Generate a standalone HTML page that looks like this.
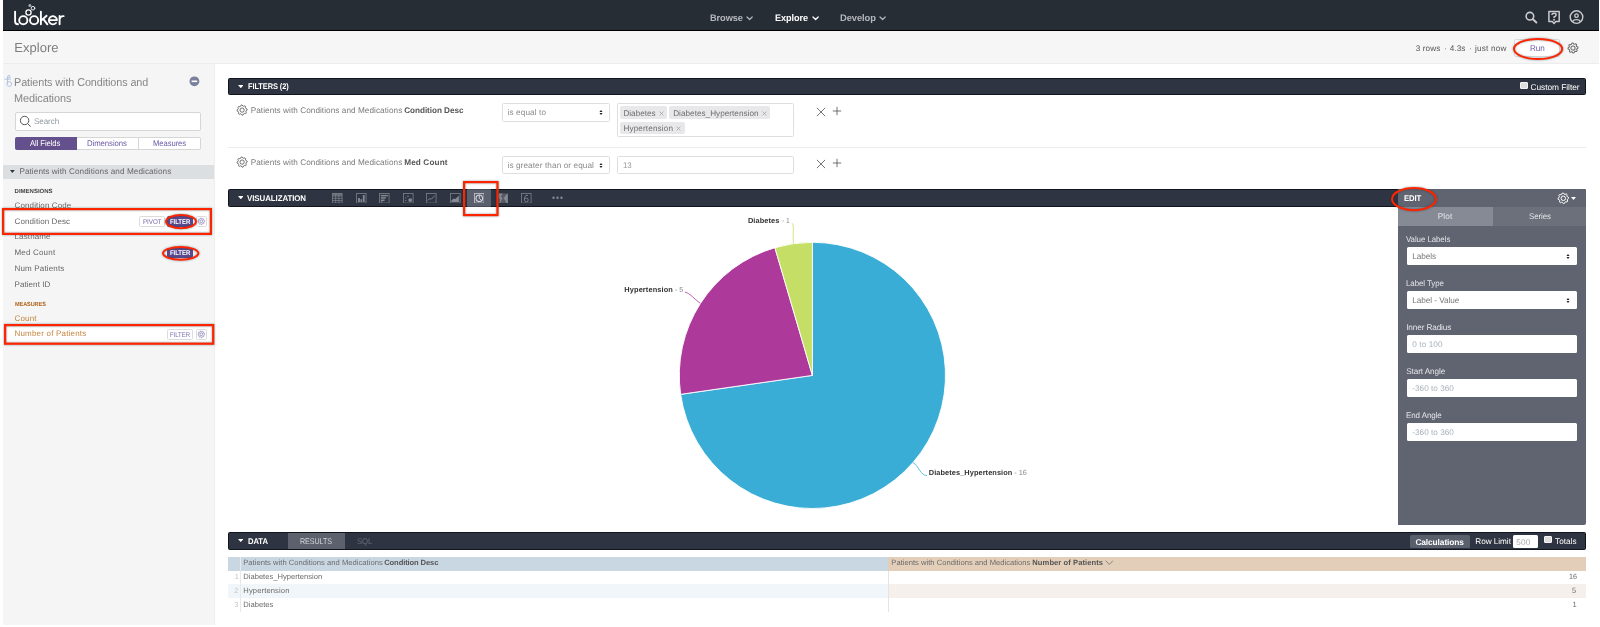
<!DOCTYPE html>
<html><head><meta charset="utf-8"><title>Explore</title>
<style>
html,body{margin:0;padding:0;background:#fff;}
body{width:1600px;height:627px;position:relative;overflow:hidden;font-family:"Liberation Sans", sans-serif;}
.b{position:absolute;box-sizing:border-box;display:block;}
.t{position:absolute;white-space:pre;line-height:12px;text-rendering:geometricPrecision;font-family:"Liberation Sans", sans-serif;}
</style></head><body><div id="root" style="position:absolute;left:0;top:0;width:1600px;height:627px;will-change:transform">
<div class="b" style="left:3px;top:0px;width:1596px;height:31px;background:#272d35;border-bottom:1px solid #000"></div>
<div class="b" style="left:3px;top:31px;width:1596px;height:33px;background:#f6f6f6;border-bottom:1px solid #ececec"></div>
<div class="b" style="left:3px;top:64px;width:212px;height:561px;background:#f5f5f5;border-right:1px solid #eeeeee"></div>
<svg class="b" style="left:0px;top:0px;" width="80" height="31" viewBox="0 0 80 31"><g fill="none" stroke="#fff" stroke-linecap="round" stroke-linejoin="round"><path d="M15.1 11.6 V21.4 Q15.1 24 18 24.2" stroke-width="1.9"/><circle cx="23.3" cy="20.2" r="4.1" stroke-width="1.9"/><circle cx="34.1" cy="20.2" r="4.1" stroke-width="1.9"/><circle cx="28.5" cy="12.5" r="2.6" stroke-width="1.3"/><circle cx="33" cy="8.2" r="1.8" stroke-width="0.9"/><path d="M40.9 11.6 V24.3 M41.5 20.2 L46.6 15.8 M43.2 18.9 L47.4 24.3" stroke-width="1.9"/><path d="M49.2 20.1 H57 A4.1 4.1 0 1 0 56 23" stroke-width="1.8"/><path d="M59.6 15.9 V24.3 M59.6 19.2 Q60 16 63.6 16.1" stroke-width="1.9"/></g><circle cx="29.9" cy="5.4" r="1.5" fill="#a9acb0"/></svg>
<span class="t" style="left:710.12px;top:13.00px;font-size:9.5px;font-weight:700;color:#b4b8bc;letter-spacing:-0.080px;transform:scaleX(0.9728);transform-origin:0 0;">Browse</span>
<svg class="b" style="left:746.4px;top:16.3px;" width="7.2" height="4.5" viewBox="0 0 7.2 4.5"><path d="M1 1 L3.6 3.5 L6.2 1" fill="none" stroke="#b4b8bc" stroke-width="1.2" stroke-linecap="round" stroke-linejoin="round"/></svg>
<span class="t" style="left:775.42px;top:13.00px;font-size:9.5px;font-weight:700;color:#ffffff;letter-spacing:-0.080px;transform:scaleX(0.9615);transform-origin:0 0;">Explore</span>
<svg class="b" style="left:812.0px;top:16.3px;" width="7.2" height="4.5" viewBox="0 0 7.2 4.5"><path d="M1 1 L3.6 3.5 L6.2 1" fill="none" stroke="#ffffff" stroke-width="1.3" stroke-linecap="round" stroke-linejoin="round"/></svg>
<span class="t" style="left:839.77px;top:13.00px;font-size:9.5px;font-weight:700;color:#b4b8bc;letter-spacing:-0.080px;transform:scaleX(0.9826);transform-origin:0 0;">Develop</span>
<svg class="b" style="left:879.1px;top:16.3px;" width="7.2" height="4.5" viewBox="0 0 7.2 4.5"><path d="M1 1 L3.6 3.5 L6.2 1" fill="none" stroke="#b4b8bc" stroke-width="1.2" stroke-linecap="round" stroke-linejoin="round"/></svg>
<svg class="b" style="left:1523px;top:9px;" width="16" height="16" viewBox="0 0 16 16"><circle cx="6.9" cy="7.2" r="3.8" fill="none" stroke="#c9cbce" stroke-width="1.6"/><path d="M9.9 10.2 L13.4 13.5" stroke="#c9cbce" stroke-width="1.9" stroke-linecap="round"/></svg>
<svg class="b" style="left:1546px;top:9px;" width="16" height="17" viewBox="0 0 16 17"><path d="M2.9 2.4 H13.2 V12.4 H9.8 L8.05 14.5 L6.3 12.4 H2.9Z" fill="none" stroke="#c9cbce" stroke-width="1.5" stroke-linejoin="round"/><path d="M6.0 6.1 Q6.0 4.3 8.05 4.3 Q10.1 4.3 10.1 6.0 Q10.1 7.1 8.05 8.0 V9.1" fill="none" stroke="#c9cbce" stroke-width="1.5"/><circle cx="8.05" cy="10.7" r="0.95" fill="#c9cbce"/></svg>
<svg class="b" style="left:1568px;top:9px;" width="17" height="17" viewBox="0 0 17 17"><circle cx="8.5" cy="8.1" r="6.3" fill="none" stroke="#c9cbce" stroke-width="1.4"/><circle cx="8.5" cy="6.7" r="1.75" fill="none" stroke="#c9cbce" stroke-width="1.3"/><path d="M4.9 12.6 Q5 10.6 8.5 10.6 Q12 10.6 12.1 12.6" fill="none" stroke="#c9cbce" stroke-width="1.4"/></svg>
<span class="t" style="left:14.35px;top:40.00px;font-size:13px;font-weight:400;color:#7d7d7d;letter-spacing:0.015px;line-height:16px">Explore</span>
<span class="t" style="left:1415.84px;top:43.00px;font-size:8.2px;font-weight:400;color:#555;letter-spacing:0.073px;">3 rows</span>
<span class="t" style="left:1443.99px;top:43.00px;font-size:8.2px;font-weight:400;color:#777;letter-spacing:0.000px;">·</span>
<span class="t" style="left:1449.84px;top:43.00px;font-size:8.2px;font-weight:400;color:#555;letter-spacing:0.001px;">4.3s</span>
<span class="t" style="left:1468.99px;top:43.00px;font-size:8.2px;font-weight:400;color:#777;letter-spacing:0.000px;">·</span>
<span class="t" style="left:1474.99px;top:43.00px;font-size:8.2px;font-weight:400;color:#555;letter-spacing:0.184px;">just now</span>
<div class="b" style="left:1514.2px;top:38.6px;width:45.5px;height:18.1px;background:#fff;border:1px solid #dcdcdc;border-radius:2px"></div>
<span class="t" style="left:1529.58px;top:42.00px;font-size:8.4px;font-weight:400;color:#6c5aa6;letter-spacing:-0.080px;transform:scaleX(0.9698);transform-origin:0 0;">Run</span>
<svg class="b" style="left:1508.7px;top:33.75px;filter:drop-shadow(0 0.6px 1px rgba(0,50,60,.45))" width="58.2" height="30.0" viewBox="0 0 58.2 30.0"><ellipse cx="29.1" cy="15.0" rx="24.1" ry="10.0" fill="none" stroke="#ff2400" stroke-width="2.0" transform="rotate(0 29.1 15.0)"/></svg>
<svg class="b" style="left:1567.1px;top:41.75px;" width="12.0" height="12.0" viewBox="0 0 12.0 12.0"><path d="M5.02 1.10 L6.00 1.00 L6.78 2.08 L7.53 2.30 L8.78 1.84 L9.54 2.46 L9.33 3.78 L9.70 4.47 L10.90 5.02 L11.00 6.00 L9.92 6.78 L9.70 7.53 L10.16 8.78 L9.54 9.54 L8.22 9.33 L7.53 9.70 L6.98 10.90 L6.00 11.00 L5.22 9.92 L4.47 9.70 L3.22 10.16 L2.46 9.54 L2.67 8.22 L2.30 7.53 L1.10 6.98 L1.00 6.00 L2.08 5.22 L2.30 4.47 L1.84 3.22 L2.46 2.46 L3.78 2.67 L4.47 2.30Z" fill="none" stroke="#6c6c6c" stroke-width="1.05" stroke-linejoin="round"/><circle cx="6.0" cy="6.0" r="2.10" fill="none" stroke="#6c6c6c" stroke-width="1.05"/></svg>
<svg class="b" style="left:3px;top:74px;" width="11" height="14" viewBox="0 0 11 14"><g fill="none" stroke="#a9bedd" stroke-width="0.85"><path d="M4.5 2.6 V9.6"/><path d="M1.4 5.2 H8"/><circle cx="6" cy="2.7" r="1.2"/><circle cx="6.2" cy="10" r="2.4"/></g></svg>
<span class="t" style="left:14.33px;top:77.00px;font-size:11.4px;font-weight:400;color:#858585;letter-spacing:-0.080px;transform:scaleX(0.9487);transform-origin:0 0;">Patients with Conditions and</span>
<span class="t" style="left:14.33px;top:93.00px;font-size:11.4px;font-weight:400;color:#858585;letter-spacing:-0.080px;transform:scaleX(0.9557);transform-origin:0 0;">Medications</span>
<svg class="b" style="left:189px;top:76.4px;" width="11" height="11" viewBox="0 0 11 11"><circle cx="5.4" cy="5.3" r="4.9" fill="#79819d"/><rect x="2.6" y="4.5" width="5.6" height="1.6" fill="#fff"/></svg>
<div class="b" style="left:14.5px;top:112.2px;width:186.3px;height:18.60000000000001px;background:#fff;border:1px solid #d6d6d6;border-radius:2px"></div>
<svg class="b" style="left:19px;top:115px;" width="13" height="13" viewBox="0 0 13 13"><circle cx="5.6" cy="5.5" r="4.2" fill="none" stroke="#555" stroke-width="1"/><path d="M8.6 8.6 L11.7 11.6" stroke="#555" stroke-width="1"/></svg>
<span class="t" style="left:34.29px;top:116.00px;font-size:8.2px;font-weight:400;color:#8e9aa0;letter-spacing:-0.080px;transform:scaleX(0.9838);transform-origin:0 0;">Search</span>
<div class="b" style="left:14.5px;top:137px;width:186.3px;height:13px;background:#fff;border:1px solid #d6d6d6;border-radius:2px"></div>
<div class="b" style="left:14.5px;top:137px;width:62.0px;height:13px;background:#64508c;border-radius:2px 0 0 2px"></div>
<div class="b" style="left:138.0px;top:137.8px;width:1.0px;height:11.399999999999977px;background:#d6d6d6"></div>
<span class="t" style="left:30.24px;top:138.00px;font-size:8.2px;font-weight:400;color:#fff;letter-spacing:-0.080px;transform:scaleX(0.9351);transform-origin:0 0;">All Fields</span>
<span class="t" style="left:87.49px;top:138.00px;font-size:8.2px;font-weight:400;color:#6c5aa6;letter-spacing:-0.080px;transform:scaleX(0.9495);transform-origin:0 0;">Dimensions</span>
<span class="t" style="left:152.89px;top:138.00px;font-size:8.2px;font-weight:400;color:#6c5aa6;letter-spacing:-0.080px;transform:scaleX(0.9363);transform-origin:0 0;">Measures</span>
<div class="b" style="left:3px;top:165px;width:211px;height:13.800000000000011px;background:#dcdfe2"></div>
<svg class="b" style="left:10.2px;top:170.1px;" width="4.8" height="3.0" viewBox="0 0 4.8 3.0"><path d="M0 0 L4.8 0 L2.4 3.0Z" fill="#333"/></svg>
<span class="t" style="left:19.39px;top:166.00px;font-size:8.2px;font-weight:400;color:#666;letter-spacing:0.068px;">Patients with Conditions and Medications</span>
<span class="t" style="left:14.60px;top:186.00px;font-size:6.0px;font-weight:700;color:#444;letter-spacing:-0.008px;">DIMENSIONS</span>
<div class="b" style="left:2.6px;top:209.2px;width:208.0px;height:25.0px;background:#fff"></div>
<span class="t" style="left:14.50px;top:200.00px;font-size:8.0px;font-weight:400;color:#666;letter-spacing:0.128px;">Condition Code</span>
<span class="t" style="left:14.50px;top:216.00px;font-size:8.0px;font-weight:400;color:#666;letter-spacing:0.105px;">Condition Desc</span>
<span class="t" style="left:14.50px;top:231.00px;font-size:8.0px;font-weight:400;color:#666;letter-spacing:0.126px;">Lastname</span>
<span class="t" style="left:14.50px;top:247.00px;font-size:8.0px;font-weight:400;color:#666;letter-spacing:0.185px;">Med Count</span>
<span class="t" style="left:14.50px;top:263.00px;font-size:8.0px;font-weight:400;color:#666;letter-spacing:0.163px;">Num Patients</span>
<span class="t" style="left:14.50px;top:279.00px;font-size:8.0px;font-weight:400;color:#666;letter-spacing:0.075px;">Patient ID</span>
<div class="b" style="left:139.3px;top:216px;width:25.399999999999977px;height:10.599999999999994px;background:#fff;border:1px solid #dcdcdc;border-radius:1.5px"></div>
<span class="t" style="left:142.56px;top:217.00px;font-size:6.9px;font-weight:400;color:#7b6cad;letter-spacing:-0.080px;transform:scaleX(0.9093);transform-origin:0 0;">PIVOT</span>
<div class="b" style="left:166.9px;top:216px;width:26.400000000000006px;height:10.599999999999994px;background:#5b4a8e;border-radius:2px"></div>
<span class="t" style="left:170.35px;top:217.00px;font-size:6.9px;font-weight:700;color:#fff;letter-spacing:-0.080px;transform:scaleX(0.8712);transform-origin:0 0;">FILTER</span>
<div class="b" style="left:195.7px;top:216px;width:11.0px;height:10.599999999999994px;background:#fff;border:1px solid #dcdcdc;border-radius:1.5px"></div>
<svg class="b" style="left:197.0px;top:217.1px;" width="8.6" height="8.6" viewBox="0 0 8.6 8.6"><path d="M3.66 1.06 L4.30 1.00 L4.82 1.71 L5.31 1.86 L6.13 1.56 L6.63 1.97 L6.50 2.83 L6.74 3.29 L7.54 3.66 L7.60 4.30 L6.89 4.82 L6.74 5.31 L7.04 6.13 L6.63 6.63 L5.77 6.50 L5.31 6.74 L4.94 7.54 L4.30 7.60 L3.78 6.89 L3.29 6.74 L2.47 7.04 L1.97 6.63 L2.10 5.77 L1.86 5.31 L1.06 4.94 L1.00 4.30 L1.71 3.78 L1.86 3.29 L1.56 2.47 L1.97 1.97 L2.83 2.10 L3.29 1.86Z" fill="none" stroke="#8176b0" stroke-width="0.7" stroke-linejoin="round"/><circle cx="4.3" cy="4.3" r="1.39" fill="none" stroke="#8176b0" stroke-width="0.7"/></svg>
<svg class="b" style="left:-2.4px;top:204.2px;filter:drop-shadow(0 0.6px 1px rgba(0,50,60,.45))" width="218.0" height="35.0" viewBox="0 0 218.0 35.0"><rect x="5.1" y="5.1" width="207.8" height="24.8" fill="none" stroke="#ff2400" stroke-width="2.2"/></svg>
<svg class="b" style="left:160.5px;top:209.6px;filter:drop-shadow(0 0.6px 1px rgba(0,50,60,.45))" width="40.0" height="23.2" viewBox="0 0 40.0 23.2"><ellipse cx="20.0" cy="11.6" rx="15.0" ry="6.6" fill="none" stroke="#ff2400" stroke-width="2.0" transform="rotate(0 20.0 11.6)"/></svg>
<div class="b" style="left:166.9px;top:247.8px;width:26.400000000000006px;height:9.800000000000011px;background:#5b4a8e;border-radius:2px"></div>
<span class="t" style="left:170.35px;top:248.00px;font-size:6.9px;font-weight:700;color:#fff;letter-spacing:-0.080px;transform:scaleX(0.8712);transform-origin:0 0;">FILTER</span>
<svg class="b" style="left:157.60000000000002px;top:241.65px;filter:drop-shadow(0 0.6px 1px rgba(0,50,60,.45))" width="45.4" height="22.7" viewBox="0 0 45.4 22.7"><ellipse cx="22.7" cy="11.35" rx="17.7" ry="6.35" fill="none" stroke="#ff2400" stroke-width="2.0" transform="rotate(0 22.7 11.35)"/></svg>
<span class="t" style="left:14.60px;top:299.00px;font-size:6.0px;font-weight:700;color:#b0651a;letter-spacing:-0.080px;transform:scaleX(0.9218);transform-origin:0 0;">MEASURES</span>
<span class="t" style="left:14.50px;top:313.00px;font-size:8.0px;font-weight:400;color:#c5853f;letter-spacing:0.165px;">Count</span>
<div class="b" style="left:4.5px;top:325px;width:208.1px;height:18.80000000000001px;background:#fff"></div>
<span class="t" style="left:14.50px;top:328.00px;font-size:8.0px;font-weight:400;color:#c5853f;letter-spacing:0.190px;">Number of Patients</span>
<div class="b" style="left:167.4px;top:329px;width:25.799999999999983px;height:10.600000000000023px;background:#fff;border:1px solid #dcdcdc;border-radius:1.5px"></div>
<span class="t" style="left:170.46px;top:330.00px;font-size:6.9px;font-weight:400;color:#7b6cad;letter-spacing:-0.080px;transform:scaleX(0.8768);transform-origin:0 0;">FILTER</span>
<div class="b" style="left:195.7px;top:329px;width:11.0px;height:10.600000000000023px;background:#fff;border:1px solid #dcdcdc;border-radius:1.5px"></div>
<svg class="b" style="left:197.0px;top:330.0px;" width="8.6" height="8.6" viewBox="0 0 8.6 8.6"><path d="M3.66 1.06 L4.30 1.00 L4.82 1.71 L5.31 1.86 L6.13 1.56 L6.63 1.97 L6.50 2.83 L6.74 3.29 L7.54 3.66 L7.60 4.30 L6.89 4.82 L6.74 5.31 L7.04 6.13 L6.63 6.63 L5.77 6.50 L5.31 6.74 L4.94 7.54 L4.30 7.60 L3.78 6.89 L3.29 6.74 L2.47 7.04 L1.97 6.63 L2.10 5.77 L1.86 5.31 L1.06 4.94 L1.00 4.30 L1.71 3.78 L1.86 3.29 L1.56 2.47 L1.97 1.97 L2.83 2.10 L3.29 1.86Z" fill="none" stroke="#8176b0" stroke-width="0.7" stroke-linejoin="round"/><circle cx="4.3" cy="4.3" r="1.39" fill="none" stroke="#8176b0" stroke-width="0.7"/></svg>
<svg class="b" style="left:-0.5px;top:320px;filter:drop-shadow(0 0.6px 1px rgba(0,50,60,.45))" width="218.3" height="28.80000000000001" viewBox="0 0 218.3 28.80000000000001"><rect x="5.1" y="5.1" width="208.10000000000002" height="18.600000000000012" fill="none" stroke="#ff2400" stroke-width="2.2"/></svg>
<div class="b" style="left:227.7px;top:77.6px;width:1358.5px;height:17.700000000000003px;background:#2e3441;border:1px solid #10141c;border-radius:1.5px"></div>
<svg class="b" style="left:237.8px;top:84.9px;" width="5.6" height="3.2" viewBox="0 0 5.6 3.2"><path d="M0 0 L5.6 0 L2.8 3.2Z" fill="#fff"/></svg>
<span class="t" style="left:248.29px;top:81.00px;font-size:8.2px;font-weight:700;color:#fff;letter-spacing:-0.080px;transform:scaleX(0.9054);transform-origin:0 0;">FILTERS (2)</span>
<div class="b" style="left:1519.8px;top:81.5px;width:8.200000000000045px;height:7.599999999999994px;background:#dedede;border:1px solid #f4f4f4;border-radius:1px"></div>
<span class="t" style="left:1530.59px;top:81.00px;font-size:8.3px;font-weight:400;color:#fff;letter-spacing:-0.032px;">Custom Filter</span>
<svg class="b" style="left:235.75px;top:104.1px;" width="12.2" height="12.2" viewBox="0 0 12.2 12.2"><path d="M5.11 1.10 L6.10 1.00 L6.90 2.10 L7.66 2.33 L8.93 1.86 L9.71 2.49 L9.49 3.83 L9.87 4.54 L11.10 5.11 L11.20 6.10 L10.10 6.90 L9.87 7.66 L10.34 8.93 L9.71 9.71 L8.37 9.49 L7.66 9.87 L7.09 11.10 L6.10 11.20 L5.30 10.10 L4.54 9.87 L3.27 10.34 L2.49 9.71 L2.71 8.37 L2.33 7.66 L1.10 7.09 L1.00 6.10 L2.10 5.30 L2.33 4.54 L1.86 3.27 L2.49 2.49 L3.83 2.71 L4.54 2.33Z" fill="none" stroke="#6e6e6e" stroke-width="1.0" stroke-linejoin="round"/><circle cx="6.1" cy="6.1" r="2.14" fill="none" stroke="#6e6e6e" stroke-width="1.0"/></svg>
<span class="t" style="left:250.69px;top:105.00px;font-size:8.2px;font-weight:400;color:#7a7a7a;letter-spacing:0.058px;">Patients with Conditions and Medications</span>
<span class="t" style="left:404.19px;top:105.00px;font-size:8.2px;font-weight:700;color:#555;letter-spacing:-0.055px;">Condition Desc</span>
<div class="b" style="left:502.1px;top:103.39999999999999px;width:107.79999999999995px;height:18.450000000000003px;background:#fff;border:1px solid #dedede;border-radius:1.5px"></div>
<span class="t" style="left:507.49px;top:107.00px;font-size:8.2px;font-weight:400;color:#8a8a8a;letter-spacing:0.121px;">is equal to</span>
<svg class="b" style="left:599.2px;top:109.3px;" width="4" height="7" viewBox="0 0 4 7"><path d="M0.45 3.0 L2 1.1 L3.55 3.0Z M0.45 4.0 L2 5.9 L3.55 4.0Z" fill="#222"/></svg>
<div class="b" style="left:617.2px;top:103.4px;width:176.5px;height:33.5px;background:#fff;border:1px solid #dedede;border-radius:1.5px"></div>
<div class="b" style="left:619.7px;top:106.3px;width:47.19999999999993px;height:12.5px;background:#e8e8ea;border-radius:2px"></div>
<span class="t" style="left:623.39px;top:108.00px;font-size:8.2px;font-weight:400;color:#6e6e6e;letter-spacing:0.001px;">Diabetes</span>
<svg class="b" style="left:658.55px;top:110.5px;" width="5" height="5" viewBox="0 0 5 5"><path d="M0.6 0.6 L4.4 4.4 M4.4 0.6 L0.6 4.4" stroke="#9a9a9a" stroke-width="0.7"/></svg>
<div class="b" style="left:669.3px;top:106.3px;width:100.70000000000005px;height:12.5px;background:#e8e8ea;border-radius:2px"></div>
<span class="t" style="left:673.19px;top:108.00px;font-size:8.2px;font-weight:400;color:#6e6e6e;letter-spacing:0.011px;">Diabetes_Hypertension</span>
<svg class="b" style="left:761.55px;top:110.5px;" width="5" height="5" viewBox="0 0 5 5"><path d="M0.6 0.6 L4.4 4.4 M4.4 0.6 L0.6 4.4" stroke="#9a9a9a" stroke-width="0.7"/></svg>
<div class="b" style="left:619.7px;top:121.6px;width:65.09999999999991px;height:12.5px;background:#e8e8ea;border-radius:2px"></div>
<span class="t" style="left:623.39px;top:123.00px;font-size:8.2px;font-weight:400;color:#6e6e6e;letter-spacing:0.126px;">Hypertension</span>
<svg class="b" style="left:675.9px;top:125.5px;" width="5" height="5" viewBox="0 0 5 5"><path d="M0.6 0.6 L4.4 4.4 M4.4 0.6 L0.6 4.4" stroke="#9a9a9a" stroke-width="0.7"/></svg>
<svg class="b" style="left:815.8px;top:106.7px;" width="10" height="10" viewBox="0 0 10 10"><path d="M0.9 0.9 L9.1 9.1 M9.1 0.9 L0.9 9.1" stroke="#5a5a5a" stroke-width="0.85"/></svg>
<svg class="b" style="left:831.7px;top:105.60000000000001px;" width="10" height="10" viewBox="0 0 10 10"><path d="M5 0.8 V9.2 M0.8 5 H9.2" stroke="#5a5a5a" stroke-width="0.85"/></svg>
<div class="b" style="left:227.7px;top:147.1px;width:1358.5px;height:1.0px;background:#ececec"></div>
<svg class="b" style="left:235.75px;top:156.45px;" width="12.2" height="12.2" viewBox="0 0 12.2 12.2"><path d="M5.11 1.10 L6.10 1.00 L6.90 2.10 L7.66 2.33 L8.93 1.86 L9.71 2.49 L9.49 3.83 L9.87 4.54 L11.10 5.11 L11.20 6.10 L10.10 6.90 L9.87 7.66 L10.34 8.93 L9.71 9.71 L8.37 9.49 L7.66 9.87 L7.09 11.10 L6.10 11.20 L5.30 10.10 L4.54 9.87 L3.27 10.34 L2.49 9.71 L2.71 8.37 L2.33 7.66 L1.10 7.09 L1.00 6.10 L2.10 5.30 L2.33 4.54 L1.86 3.27 L2.49 2.49 L3.83 2.71 L4.54 2.33Z" fill="none" stroke="#6e6e6e" stroke-width="1.0" stroke-linejoin="round"/><circle cx="6.1" cy="6.1" r="2.14" fill="none" stroke="#6e6e6e" stroke-width="1.0"/></svg>
<span class="t" style="left:250.69px;top:157.00px;font-size:8.2px;font-weight:400;color:#7a7a7a;letter-spacing:0.058px;">Patients with Conditions and Medications</span>
<span class="t" style="left:404.19px;top:157.00px;font-size:8.2px;font-weight:700;color:#555;letter-spacing:0.130px;">Med Count</span>
<div class="b" style="left:502.1px;top:155.75px;width:107.79999999999995px;height:18.44999999999999px;background:#fff;border:1px solid #dedede;border-radius:1.5px"></div>
<span class="t" style="left:507.49px;top:160.00px;font-size:8.2px;font-weight:400;color:#8a8a8a;letter-spacing:0.097px;">is greater than or equal</span>
<svg class="b" style="left:599.2px;top:161.64999999999998px;" width="4" height="7" viewBox="0 0 4 7"><path d="M0.45 3.0 L2 1.1 L3.55 3.0Z M0.45 4.0 L2 5.9 L3.55 4.0Z" fill="#222"/></svg>
<div class="b" style="left:617.2px;top:156.4px;width:176.5px;height:17.900000000000006px;background:#fff;border:1px solid #dedede;border-radius:1.5px"></div>
<span class="t" style="left:622.79px;top:160.00px;font-size:8.2px;font-weight:400;color:#999;letter-spacing:-0.080px;transform:scaleX(0.9677);transform-origin:0 0;">13</span>
<svg class="b" style="left:815.8px;top:159.3px;" width="10" height="10" viewBox="0 0 10 10"><path d="M0.9 0.9 L9.1 9.1 M9.1 0.9 L0.9 9.1" stroke="#5a5a5a" stroke-width="0.85"/></svg>
<svg class="b" style="left:831.7px;top:158.20000000000002px;" width="10" height="10" viewBox="0 0 10 10"><path d="M5 0.8 V9.2 M0.8 5 H9.2" stroke="#5a5a5a" stroke-width="0.85"/></svg>
<div class="b" style="left:227.7px;top:189px;width:1358.5px;height:18px;background:#2e3441;border:1px solid #10141c;border-radius:1.5px"></div>
<svg class="b" style="left:237.9px;top:196.1px;" width="5.6" height="3.3" viewBox="0 0 5.6 3.3"><path d="M0 0 L5.6 0 L2.8 3.3Z" fill="#fff"/></svg>
<span class="t" style="left:247.49px;top:193.00px;font-size:8.2px;font-weight:700;color:#fff;letter-spacing:-0.080px;transform:scaleX(0.9653);transform-origin:0 0;">VISUALIZATION</span>
<svg class="b" style="left:332.3px;top:192.9px;" width="10.6" height="10.6" viewBox="0 0 10.6 10.6"><rect x="0.5" y="0.5" width="9.6" height="9.6" fill="none" stroke="#858993" stroke-width="0.9" opacity="0.8"/><path d="M0.5 3 H10.1 M0.5 5.3 H10.1 M0.5 7.6 H10.1 M3.7 0.5 V10.1 M6.9 0.5 V10.1" stroke="#858993" stroke-width="0.7"/><rect x="0.5" y="0.5" width="9.6" height="2.2" fill="#858993" opacity=".6"/></svg>
<svg class="b" style="left:356.0px;top:192.9px;" width="10.6" height="10.6" viewBox="0 0 10.6 10.6"><rect x="0.5" y="0.5" width="9.6" height="9.6" fill="none" stroke="#858993" stroke-width="0.9" opacity="0.8"/><rect x="2" y="5" width="1.9" height="4" fill="#858993"/><rect x="4.5" y="6.2" width="1.6" height="2.8" fill="#858993"/><rect x="6.8" y="2" width="1.9" height="7" fill="#858993"/></svg>
<svg class="b" style="left:379.4px;top:192.9px;" width="10.6" height="10.6" viewBox="0 0 10.6 10.6"><rect x="0.5" y="0.5" width="9.6" height="9.6" fill="none" stroke="#858993" stroke-width="0.9" opacity="0.8"/><rect x="1.8" y="1.9" width="7" height="1.5" fill="#858993"/><rect x="1.8" y="4.2" width="5" height="1.5" fill="#858993"/><rect x="1.8" y="6.5" width="3.8" height="1.5" fill="#858993"/><rect x="1.8" y="8.4" width="1.8" height="0.9" fill="#858993"/></svg>
<svg class="b" style="left:403.09999999999997px;top:192.9px;" width="10.6" height="10.6" viewBox="0 0 10.6 10.6"><rect x="0.5" y="0.5" width="9.6" height="9.6" fill="none" stroke="#858993" stroke-width="0.9" opacity="0.8"/><circle cx="7.2" cy="7.1" r="1.95" fill="#858993"/><circle cx="5" cy="3.2" r="0.8" fill="#858993"/><circle cx="2.7" cy="4.8" r="0.6" fill="#858993"/><rect x="2" y="7.2" width="1.4" height="0.7" fill="#858993"/></svg>
<svg class="b" style="left:426.4px;top:192.9px;" width="10.6" height="10.6" viewBox="0 0 10.6 10.6"><rect x="0.5" y="0.5" width="9.6" height="9.6" fill="none" stroke="#858993" stroke-width="0.9" opacity="0.8"/><path d="M1.6 7.4 L3.8 5.6 L5.4 6.2 L8.8 2.6" fill="none" stroke="#858993" stroke-width="0.9"/></svg>
<svg class="b" style="left:450.09999999999997px;top:192.9px;" width="10.6" height="10.6" viewBox="0 0 10.6 10.6"><rect x="0.5" y="0.5" width="9.6" height="9.6" fill="none" stroke="#858993" stroke-width="0.9" opacity="0.8"/><path d="M1.4 8.9 V7.2 L3.8 5.4 L5.4 6 L8.9 2.6 V8.9Z" fill="#858993"/></svg>
<div class="b" style="left:467px;top:189px;width:24px;height:18px;background:#5b606e;border-top:1px solid #474c59;border-bottom:1px solid #474c59"></div>
<svg class="b" style="left:473.9px;top:192.9px;" width="10.6" height="10.6" viewBox="0 0 10.6 10.6"><rect x="0.5" y="0.5" width="9.6" height="9.6" fill="none" stroke="#d6d8dc" stroke-width="0.9" opacity="0.8"/><circle cx="5.3" cy="5.3" r="3.3" fill="none" stroke="#d6d8dc" stroke-width="1.1"/><path d="M5.3 2 V5.3 L7.6 7.6" fill="none" stroke="#d6d8dc" stroke-width="0.9"/></svg>
<svg class="b" style="left:498.3px;top:192.9px;" width="10.6" height="10.6" viewBox="0 0 10.6 10.6"><rect x="0.6" y="0.5" width="9.2" height="9.6" fill="#858993" opacity="0.45"/><path d="M0.6 0.5 H4.6 L3 3.4 L4.4 5.2 L2.4 10.1 H1.6 L2 6.2 L0.6 4.4Z M9.8 0.5 V10.1 L8.2 10.1 L7.4 7.4 L5.6 5.6 L7.2 3 L9 1Z" fill="#858993"/></svg>
<svg class="b" style="left:521.2px;top:192.9px;" width="10.6" height="10.6" viewBox="0 0 10.6 10.6"><rect x="0.5" y="0.5" width="9.6" height="9.6" fill="none" stroke="#858993" stroke-width="0.9" opacity="0.8"/><path d="M7.0 2.3 Q4.4 1.6 3.6 4.6 Q2.9 8.9 5.3 8.9 Q7.2 8.9 7.2 6.9 Q7.2 5.2 5.5 5.2 Q4.2 5.2 3.5 6.4" fill="none" stroke="#858993" stroke-width="0.9"/></svg>
<svg class="b" style="left:552.3px;top:196.4px;" width="11" height="3.4" viewBox="0 0 11 3.4"><circle cx="1.5" cy="1.7" r="1.2" fill="#858993"/><circle cx="5.5" cy="1.7" r="1.2" fill="#858993"/><circle cx="9.5" cy="1.7" r="1.2" fill="#858993"/></svg>
<svg class="b" style="left:459.1px;top:177.3px;filter:drop-shadow(0 0.6px 1px rgba(0,50,60,.45))" width="43.599999999999966" height="43.19999999999999" viewBox="0 0 43.599999999999966 43.19999999999999"><rect x="5.1" y="5.1" width="33.39999999999996" height="32.999999999999986" fill="none" stroke="#ff2400" stroke-width="2.2"/></svg>
<div class="b" style="left:1397.7px;top:189.2px;width:188.29999999999995px;height:335.40000000000003px;background:#5f6470;border-radius:0 2px 2px 0"></div>
<span class="t" style="left:1403.59px;top:193.00px;font-size:8.2px;font-weight:700;color:#fff;letter-spacing:-0.080px;transform:scaleX(0.9415);transform-origin:0 0;">EDIT</span>
<svg class="b" style="left:1557.0px;top:192.0px;" width="12.6" height="12.6" viewBox="0 0 12.6 12.6"><path d="M5.27 1.10 L6.30 1.00 L7.13 2.14 L7.92 2.38 L9.24 1.89 L10.05 2.55 L9.83 3.94 L10.22 4.68 L11.50 5.27 L11.60 6.30 L10.46 7.13 L10.22 7.92 L10.71 9.24 L10.05 10.05 L8.66 9.83 L7.92 10.22 L7.33 11.50 L6.30 11.60 L5.47 10.46 L4.68 10.22 L3.36 10.71 L2.55 10.05 L2.77 8.66 L2.38 7.92 L1.10 7.33 L1.00 6.30 L2.14 5.47 L2.38 4.68 L1.89 3.36 L2.55 2.55 L3.94 2.77 L4.68 2.38Z" fill="none" stroke="#fff" stroke-width="1.0" stroke-linejoin="round"/><circle cx="6.3" cy="6.3" r="2.23" fill="none" stroke="#fff" stroke-width="1.0"/></svg>
<svg class="b" style="left:1570.5px;top:197.0px;" width="5.0" height="2.9" viewBox="0 0 5.0 2.9"><path d="M0 0 L5.0 0 L2.5 2.9Z" fill="#fff"/></svg>
<div class="b" style="left:1397.7px;top:207.1px;width:95.0px;height:18.650000000000006px;background:#868a95"></div>
<div class="b" style="left:1492.7px;top:207.1px;width:93.29999999999995px;height:18.650000000000006px;background:#6b707b"></div>
<span class="t" style="left:1437.79px;top:211.00px;font-size:8.2px;font-weight:400;color:#e6e7ea;letter-spacing:0.110px;">Plot</span>
<span class="t" style="left:1528.59px;top:211.00px;font-size:8.2px;font-weight:400;color:#e6e7ea;letter-spacing:-0.080px;transform:scaleX(0.9570);transform-origin:0 0;">Series</span>
<svg class="b" style="left:1386.6px;top:183.1px;filter:drop-shadow(0 0.6px 1px rgba(0,50,60,.45))" width="54" height="32.2" viewBox="0 0 54 32.2"><ellipse cx="27" cy="16.1" rx="21.95" ry="11.049999999999999" fill="none" stroke="#ff2400" stroke-width="2.1" transform="rotate(0 27 16.1)"/></svg>
<span class="t" style="left:1406.19px;top:234.00px;font-size:8.2px;font-weight:400;color:#e4e5e8;letter-spacing:-0.080px;transform:scaleX(0.9669);transform-origin:0 0;">Value Labels</span>
<div class="b" style="left:1406.6px;top:247.2px;width:170.60000000000014px;height:18.30000000000001px;background:#fff;border-radius:1.5px"></div>
<span class="t" style="left:1412.29px;top:251.00px;font-size:8.2px;font-weight:400;color:#777;letter-spacing:-0.041px;">Labels</span>
<svg class="b" style="left:1566.3px;top:252.89999999999998px;" width="4" height="7" viewBox="0 0 4 7"><path d="M0.45 3.0 L2 1.1 L3.55 3.0Z M0.45 4.0 L2 5.9 L3.55 4.0Z" fill="#222"/></svg>
<span class="t" style="left:1406.19px;top:278.00px;font-size:8.2px;font-weight:400;color:#e4e5e8;letter-spacing:-0.080px;transform:scaleX(0.9678);transform-origin:0 0;">Label Type</span>
<div class="b" style="left:1406.6px;top:291.2px;width:170.60000000000014px;height:18.30000000000001px;background:#fff;border-radius:1.5px"></div>
<span class="t" style="left:1412.29px;top:295.00px;font-size:8.2px;font-weight:400;color:#777;letter-spacing:-0.052px;">Label - Value</span>
<svg class="b" style="left:1566.3px;top:296.9px;" width="4" height="7" viewBox="0 0 4 7"><path d="M0.45 3.0 L2 1.1 L3.55 3.0Z M0.45 4.0 L2 5.9 L3.55 4.0Z" fill="#222"/></svg>
<span class="t" style="left:1406.19px;top:322.00px;font-size:8.2px;font-weight:400;color:#e4e5e8;letter-spacing:-0.118px;">Inner Radius</span>
<div class="b" style="left:1406.6px;top:335.2px;width:170.60000000000014px;height:18.30000000000001px;background:#fff;border-radius:1.5px"></div>
<span class="t" style="left:1412.29px;top:339.00px;font-size:8.2px;font-weight:400;color:#a9b1ba;letter-spacing:0.092px;">0 to 100</span>
<span class="t" style="left:1406.19px;top:366.00px;font-size:8.2px;font-weight:400;color:#e4e5e8;letter-spacing:-0.092px;">Start Angle</span>
<div class="b" style="left:1406.6px;top:379.2px;width:170.60000000000014px;height:18.30000000000001px;background:#fff;border-radius:1.5px"></div>
<span class="t" style="left:1412.29px;top:383.00px;font-size:8.2px;font-weight:400;color:#a9b1ba;letter-spacing:0.020px;">-360 to 360</span>
<span class="t" style="left:1406.19px;top:410.00px;font-size:8.2px;font-weight:400;color:#e4e5e8;letter-spacing:-0.080px;transform:scaleX(0.9737);transform-origin:0 0;">End Angle</span>
<div class="b" style="left:1406.6px;top:423.2px;width:170.60000000000014px;height:18.30000000000001px;background:#fff;border-radius:1.5px"></div>
<span class="t" style="left:1412.29px;top:427.00px;font-size:8.2px;font-weight:400;color:#a9b1ba;letter-spacing:0.020px;">-360 to 360</span>
<svg class="b" style="left:0px;top:0px;" width="1600" height="627" viewBox="0 0 1600 627"><path d="M812.4 375.4 L812.40 242.30 A133.1 133.1 0 1 1 680.65 394.34Z" fill="#3aadd6" stroke="#fff" stroke-width="0.9" stroke-linejoin="round"/><path d="M812.4 375.4 L680.65 394.34 A133.1 133.1 0 0 1 774.90 247.69Z" fill="#ad3a9b" stroke="#fff" stroke-width="0.9" stroke-linejoin="round"/><path d="M812.4 375.4 L774.90 247.69 A133.1 133.1 0 0 1 812.40 242.30Z" fill="#c5de66" stroke="#fff" stroke-width="0.9" stroke-linejoin="round"/><path d="M791.9 223.2 C794.6 224 792.4 236 793.5 243.6" fill="none" stroke="#c5de66" stroke-width="0.8"/><path d="M685 292.2 C690 293 694 299 700.2 303.2" fill="none" stroke="#ad3a9b" stroke-width="0.8"/><path d="M913 462.6 C919 466 920 475 926.8 475.6" fill="none" stroke="#3aadd6" stroke-width="0.8"/></svg>
<span class="t" style="left:747.93px;top:215.00px;font-size:7.4px;font-weight:700;color:#333;letter-spacing:0.093px;">Diabetes</span>
<span class="t" style="left:781.63px;top:215.00px;font-size:7.4px;font-weight:400;color:#888;letter-spacing:-0.080px;transform:scaleX(0.9056);transform-origin:0 0;">- 1</span>
<span class="t" style="left:624.33px;top:284.00px;font-size:7.4px;font-weight:700;color:#333;letter-spacing:0.112px;">Hypertension</span>
<span class="t" style="left:675.03px;top:284.00px;font-size:7.4px;font-weight:400;color:#888;letter-spacing:-0.080px;transform:scaleX(0.9883);transform-origin:0 0;">- 5</span>
<span class="t" style="left:928.83px;top:467.00px;font-size:7.4px;font-weight:700;color:#333;letter-spacing:0.065px;">Diabetes_Hypertension</span>
<span class="t" style="left:1014.13px;top:467.00px;font-size:7.4px;font-weight:400;color:#888;letter-spacing:0.039px;">- 16</span>
<div class="b" style="left:227.7px;top:532px;width:1358.5px;height:18px;background:#2e3441;border:1px solid #10141c;border-radius:1.5px"></div>
<svg class="b" style="left:238.0px;top:539.3px;" width="5.4" height="3.1" viewBox="0 0 5.4 3.1"><path d="M0 0 L5.4 0 L2.7 3.1Z" fill="#fff"/></svg>
<span class="t" style="left:248.29px;top:536.00px;font-size:8.2px;font-weight:700;color:#fff;letter-spacing:-0.080px;transform:scaleX(0.9364);transform-origin:0 0;">DATA</span>
<div class="b" style="left:288px;top:532.6px;width:56.80000000000001px;height:16.899999999999977px;background:#5c616d"></div>
<span class="t" style="left:300.19px;top:536.00px;font-size:8.2px;font-weight:400;color:#d3d5d9;letter-spacing:-0.080px;transform:scaleX(0.8735);transform-origin:0 0;">RESULTS</span>
<span class="t" style="left:357.29px;top:536.00px;font-size:8.2px;font-weight:400;color:#666b78;letter-spacing:-0.080px;transform:scaleX(0.9512);transform-origin:0 0;">SQL</span>
<div class="b" style="left:1410px;top:535px;width:59.90000000000009px;height:13.25px;background:#5a5f6c;border-radius:1.5px"></div>
<span class="t" style="left:1415.38px;top:536.00px;font-size:8.4px;font-weight:700;color:#fff;letter-spacing:-0.113px;">Calculations</span>
<span class="t" style="left:1475.29px;top:536.00px;font-size:8.2px;font-weight:400;color:#fff;letter-spacing:-0.039px;">Row Limit</span>
<div class="b" style="left:1513px;top:535px;width:24.799999999999955px;height:13.25px;background:#fff;border-radius:1.5px"></div>
<span class="t" style="left:1516.19px;top:537.00px;font-size:8.2px;font-weight:400;color:#aaa;letter-spacing:0.183px;">500</span>
<div class="b" style="left:1544px;top:536px;width:7.599999999999909px;height:7.2999999999999545px;background:#dedede;border:1px solid #f4f4f4;border-radius:1px"></div>
<span class="t" style="left:1555.09px;top:536.00px;font-size:8.2px;font-weight:400;color:#fff;letter-spacing:0.009px;">Totals</span>
<div class="b" style="left:227.7px;top:556.9px;width:660.5999999999999px;height:13.800000000000068px;background:#c9d7e3"></div>
<div class="b" style="left:888.3px;top:556.9px;width:697.9000000000001px;height:13.800000000000068px;background:#e3cfb9"></div>
<div class="b" style="left:227.7px;top:584.2px;width:660.5999999999999px;height:13.599999999999909px;background:#f1f6fa"></div>
<div class="b" style="left:888.3px;top:584.2px;width:697.9000000000001px;height:13.599999999999909px;background:#f5f0eb"></div>
<div class="b" style="left:240.0px;top:556.9px;width:0.8000000000000114px;height:54.700000000000045px;background:#e6e9ed"></div>
<div class="b" style="left:888.0px;top:570.7px;width:0.7999999999999545px;height:40.89999999999998px;background:#e4e4e4"></div>
<span class="t" style="left:243.27px;top:557.00px;font-size:7.6px;font-weight:400;color:#6b6b6b;letter-spacing:0.025px;">Patients with Conditions and Medications</span>
<span class="t" style="left:384.22px;top:557.00px;font-size:7.6px;font-weight:700;color:#555;letter-spacing:-0.117px;">Condition Desc</span>
<span class="t" style="left:891.32px;top:557.00px;font-size:7.6px;font-weight:400;color:#6b6b6b;letter-spacing:0.014px;">Patients with Conditions and Medications</span>
<span class="t" style="left:1032.32px;top:557.00px;font-size:7.6px;font-weight:700;color:#555;letter-spacing:0.065px;">Number of Patients</span>
<svg class="b" style="left:1105.2px;top:560.1px;" width="8.6" height="5.5" viewBox="0 0 8.6 5.5"><path d="M1 1 L4.3 4.5 L7.6 1" fill="none" stroke="#666" stroke-width="0.7" stroke-linecap="round" stroke-linejoin="round"/></svg>
<span class="t" style="left:234.83px;top:571.00px;font-size:7.4px;font-weight:400;color:#c4c4c4;letter-spacing:0.000px;">1</span>
<span class="t" style="left:243.27px;top:571.00px;font-size:7.6px;font-weight:400;color:#6b6b6b;letter-spacing:-0.000px;">Diabetes_Hypertension</span>
<span class="t" style="left:1568.62px;top:571.00px;font-size:7.6px;font-weight:400;color:#6b6b6b;letter-spacing:-0.080px;transform:scaleX(0.9416);transform-origin:0 0;">16</span>
<span class="t" style="left:234.23px;top:585.00px;font-size:7.4px;font-weight:400;color:#c4c4c4;letter-spacing:0.000px;">2</span>
<span class="t" style="left:243.27px;top:585.00px;font-size:7.6px;font-weight:400;color:#6b6b6b;letter-spacing:0.126px;">Hypertension</span>
<span class="t" style="left:1572.02px;top:585.00px;font-size:7.6px;font-weight:400;color:#6b6b6b;letter-spacing:0.000px;">5</span>
<span class="t" style="left:234.23px;top:599.00px;font-size:7.4px;font-weight:400;color:#c4c4c4;letter-spacing:0.000px;">3</span>
<span class="t" style="left:243.27px;top:599.00px;font-size:7.6px;font-weight:400;color:#6b6b6b;letter-spacing:0.021px;">Diabetes</span>
<span class="t" style="left:1572.62px;top:599.00px;font-size:7.6px;font-weight:400;color:#6b6b6b;letter-spacing:0.000px;">1</span>
</div></body></html>
